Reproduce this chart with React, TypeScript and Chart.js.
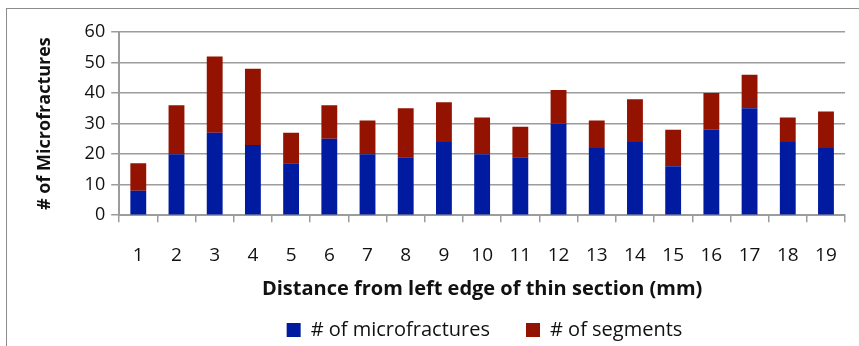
import React, { useEffect, useRef } from "react";
import { Chart, registerables } from "chart.js";

Chart.register(...registerables);

const distances = ["1", "2", "3", "4", "5", "6", "7", "8", "9", "10", "11", "12", "13", "14", "15", "16", "17", "18", "19"];
const microfractures = [8, 20, 27, 23, 17, 25, 20, 19, 24, 20, 19, 30, 22, 24, 16, 28, 35, 24, 22];
const segments = [9, 16, 25, 25, 10, 11, 11, 16, 13, 12, 10, 11, 9, 14, 12, 12, 11, 8, 12];

const FONT = "'Open Sans', 'Noto Sans', sans-serif";
const GRID = "#9c9c9c";
const TEXT = "#111";

// Thin frame around the whole chart (left and top edges visible)
const framePlugin = {
  id: "frame",
  beforeDraw(chart: Chart) {
    const { ctx } = chart;
    ctx.save();
    ctx.strokeStyle = "#8c8c8c";
    ctx.lineWidth = 1;
    ctx.strokeRect(6.5, 8.5, chart.width + 20, chart.height + 20);
    ctx.restore();
  },
};

// Centre the legend row under the plot area instead of the whole canvas
const legendShiftPlugin = {
  id: "legendShift",
  afterLayout(chart: Chart) {
    const lg: any = chart.legend;
    if (!lg) return;
    const dx = 41;
    lg.left += dx;
    lg.right += dx;
  },
};

export default function App() {
  const ref = useRef<HTMLCanvasElement | null>(null);

  useEffect(() => {
    document.body.style.margin = "0";
    const canvas = ref.current;
    if (!canvas) return;
    const chart = new Chart(canvas, {
      type: "bar",
      data: {
        labels: distances,
        datasets: [
          {
            label: "# of microfractures",
            data: microfractures,
            backgroundColor: "#001ba0",
            borderWidth: 0,
            barPercentage: 0.415,
            categoryPercentage: 1,
          },
          {
            label: "# of segments",
            data: segments,
            backgroundColor: "#941200",
            borderWidth: 0,
            barPercentage: 0.415,
            categoryPercentage: 1,
          },
        ],
      },
      options: {
        responsive: false,
        animation: false,
        layout: { padding: { left: 34, right: 6, top: 32, bottom: -4 } },
        plugins: {
          tooltip: { enabled: false },
          legend: {
            position: "bottom",
            labels: {
              font: { family: FONT, size: 20 },
              color: TEXT,
              boxWidth: 14,
              boxHeight: 14,
              padding: 10,
              // extra room after the first entry
              generateLabels(c: Chart) {
                const items = Chart.defaults.plugins.legend.labels.generateLabels(c);
                items.forEach((it: any, i: number) => {
                  if (i === 0) it.text = it.text + "     ";
                  it.lineWidth = 0;
                });
                return items;
              },
            },
          },
        },
        scales: {
          x: {
            stacked: true,
            offset: true,
            grid: {
              display: true,
              drawOnChartArea: false,
              drawTicks: true,
              tickLength: 7,
              color: GRID,
              lineWidth: 1.5,
              offset: true,
            },
            border: { color: GRID, width: 2 },
            ticks: {
              font: { family: FONT, size: 19 },
              color: TEXT,
              padding: 22,
              maxRotation: 0,
              autoSkip: false,
            },
            title: {
              display: true,
              text: "Distance from left edge of thin section (mm)",
              font: { family: FONT, size: 20, weight: "bold" },
              color: TEXT,
              padding: { top: -12, bottom: 9 },
            },
          },
          y: {
            stacked: true,
            min: 0,
            max: 60,
            ticks: {
              stepSize: 10,
              autoSkip: false,
              font: { family: FONT, size: 18 },
              color: TEXT,
              padding: 6,
            },
            grid: {
              color: GRID,
              lineWidth: 1.5,
              tickLength: 8,
            },
            border: { color: GRID, width: 2 },
            title: {
              display: true,
              text: "# of Microfractures",
              font: { family: FONT, size: 18, weight: "bold" },
              color: TEXT,
              padding: { top: 0, bottom: 23 },
            },
          },
        },
      },
      plugins: [framePlugin, legendShiftPlugin],
    });
    return () => chart.destroy();
  }, []);

  return <canvas ref={ref} width={859} height={346} style={{ display: "block" }} />;
}
